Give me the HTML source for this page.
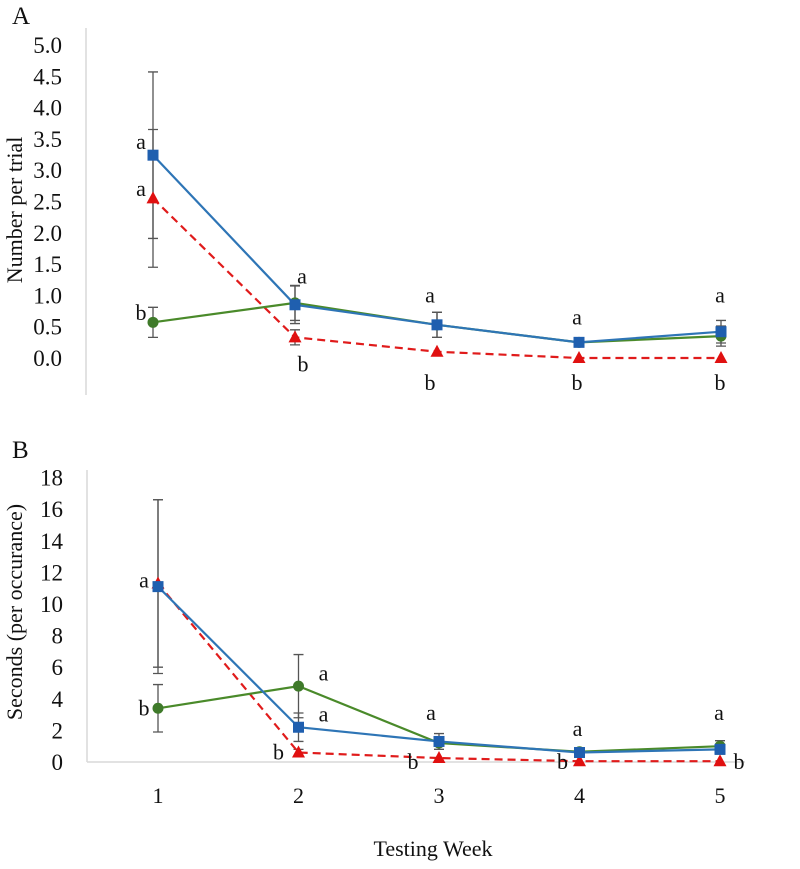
<!DOCTYPE html>
<html><head><meta charset="utf-8"><style>
body{margin:0;background:#fff;}
svg text{font-family:"Liberation Serif",serif;fill:#111;}
</style></head><body>
<svg id="chart" width="800" height="864" xmlns="http://www.w3.org/2000/svg"></svg>
<script>
const weeks=[1,2,3,4,5];
// Panel A
const aTicks=["0.0","0.5","1.0","1.5","2.0","2.5","3.0","3.5","4.0","4.5","5.0"];
const aBlue=[3.24,0.85,0.53,0.25,0.42];
const aBlueErr=[1.33,0.3,0.2,0.06,0.18];
const aGreen=[0.57,0.88,0.53,0.25,0.35];
const aGreenErr=[0.24,0.28,0.2,0.05,0.16];
const aRed=[2.55,0.33,0.1,0,0];
const aRedErr=[1.1,0.12,0,0,0];
const aLetters=[["a",1,3.45,-12],["a",1,2.7,-12],["b",1,0.72,-12],["a",2,1.3,7],["b",2,-0.1,8],["a",3,1.0,-7],["b",3,-0.4,-7],["a",4,0.65,-2],["b",4,-0.4,-2],["a",5,1.0,-1],["b",5,-0.4,-1]];
// Panel B
const bTicks=["0","2","4","6","8","10","12","14","16","18"];
const bBlue=[11.1,2.2,1.3,0.6,0.8];
const bBlueErr=[5.5,0.9,0.5,0.15,0.3];
const bGreen=[3.4,4.8,1.2,0.65,1.0];
const bGreenErr=[1.5,2.0,0.4,0.15,0.35];
const bRed=[11.3,0.6,0.25,0.05,0.05];
const bRedErr=[5.3,0.2,0,0,0];
const bLetters=[["a",1,11.5,-14],["b",1,3.4,-14],["a",2,5.6,25],["a",2,3.0,25],["b",2,0.6,-20],["a",3,3.1,-8],["b",3,0.0,-26],["a",4,2.1,-2],["b",4,0.0,-17],["a",5,3.1,-1],["b",5,0.0,19]];

const svg=document.getElementById('chart');
const NS="http://www.w3.org/2000/svg";
function el(tag,attrs,parent){const e=document.createElementNS(NS,tag);for(const k in attrs)e.setAttribute(k,attrs[k]);(parent||svg).appendChild(e);return e;}

function panel(cfg){
  const g=el('g',{});
  
  
  const X=w=>cfg.x1+(w-1)*cfg.dx;
  const Y=v=>cfg.y0-v*cfg.py;
  const ax=el('line',{x1:cfg.axX,y1:cfg.axTop,x2:cfg.axX,y2:cfg.axBot,stroke:'#d9d9d9','stroke-width':1.5},g);
  
  if(cfg.xAxis){const xl=el('line',{x1:cfg.axX,y1:Y(0),x2:745,y2:Y(0),stroke:'#d9d9d9','stroke-width':1.5},g);
    
    weeks.forEach(w=>{const t=el('text',{x:X(w),y:cfg.y0+41,'font-size':22,'text-anchor':'middle'},g);t.textContent=w;
      });}
  cfg.ticks.forEach((s,i)=>{const t=el('text',{x:cfg.axX-24,y:Y(i*cfg.step)+8,'font-size':23,'text-anchor':'end'},g);t.textContent=s;
    });
  const lbl=el('text',{x:12,y:cfg.letterY,'font-size':25},g);lbl.textContent=cfg.letter;
  
  const yt=el('text',{transform:`translate(22,${cfg.titleY}) rotate(-90)`,'font-size':22,'text-anchor':'middle'},g);yt.textContent=cfg.title;
  
  const series=[[cfg.blue,cfg.blueErr,'#2e75b6','square','blue'],[cfg.green,cfg.greenErr,'#4a8a2a','circle','green'],[cfg.red,cfg.redErr,'#e01b1b','triangle','red']];
  series.forEach(([vals,errs])=>{vals.forEach((v,i)=>{if(!errs[i])return;const x=X(weeks[i]);
    const e=el('path',{d:`M${x},${Y(v+errs[i])}V${Y(v-errs[i])}M${x-5},${Y(v+errs[i])}h10M${x-5},${Y(v-errs[i])}h10`,stroke:'#555','stroke-width':1.3,fill:'none'},g);
    });});
  [series[2],series[1],series[0]].forEach(([vals,errs,col,shape,nm])=>{
    const pts=vals.map((v,i)=>X(weeks[i])+','+Y(v)).join(' ');
    const l=el('polyline',{points:pts,fill:'none',stroke:col,'stroke-width':2.2},g);
    if(nm==='red')l.setAttribute('stroke-dasharray','8,5');
    
    vals.forEach((v,i)=>{const x=X(weeks[i]),y=Y(v);let m;
      if(shape==='square')m=el('rect',{x:x-5.5,y:y-5.5,width:11,height:11,fill:'#1f5faf'},g);
      else if(shape==='circle')m=el('circle',{cx:x,cy:y,r:5.5,fill:'#3f7a2a'},g);
      else m=el('path',{d:`M${x},${y-7}L${x+6.5},${y+5}L${x-6.5},${y+5}Z`,fill:'#e01010'},g);
      });
  });
  cfg.letters.forEach(([s,w,v,dx])=>{const t=el('text',{x:X(w)+dx,y:Y(v)+7,'font-size':22,'text-anchor':'middle'},g);t.textContent=s;
    });
}
panel({name:'panel-a',letter:'A',letterY:24,title:'Number per trial',titleY:210,ticks:aTicks,step:0.5,x1:153,dx:142,y0:358,py:62.6,axX:86,axTop:28,axBot:395,xAxis:false,
  blue:aBlue,blueErr:aBlueErr,green:aGreen,greenErr:aGreenErr,red:aRed,redErr:aRedErr,letters:aLetters});
panel({name:'panel-b',letter:'B',letterY:458,title:'Seconds (per occurance)',titleY:612,ticks:bTicks,step:2,x1:158,dx:140.5,y0:762,py:15.8,axX:87,axTop:470,axBot:762,xAxis:true,
  blue:bBlue,blueErr:bBlueErr,green:bGreen,greenErr:bGreenErr,red:bRed,redErr:bRedErr,letters:bLetters});
const xt=el('text',{x:433,y:856,'font-size':22,'text-anchor':'middle'});xt.textContent='Testing Week';


</script>
</body></html>
